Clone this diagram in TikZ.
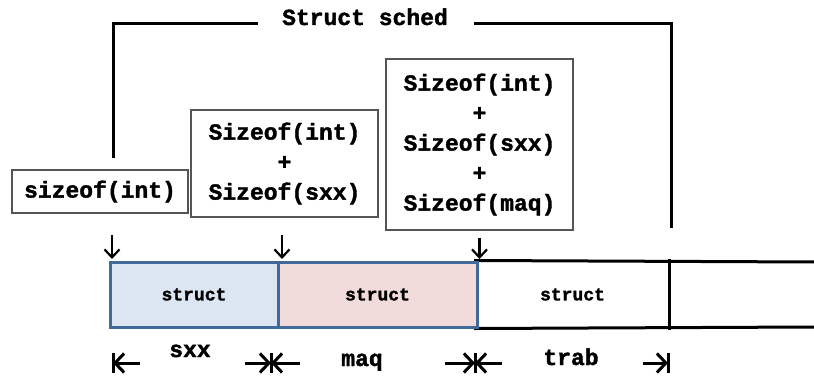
\documentclass[tikz,border=0pt]{standalone}
\usepackage{fontspec}
\newfontfamily\cour{Liberation Mono}[BoldFeatures={FakeBold=1.6}]
\usetikzlibrary{arrows.meta}
\definecolor{cellblue}{HTML}{DCE6F2}
\definecolor{cellpink}{HTML}{F2DCDB}
\definecolor{celledge}{HTML}{41699C}
\definecolor{boxedge}{HTML}{555555}
\begin{document}
\begin{tikzpicture}[x=1pt,y=-1pt,
  txt/.style={font=\cour\bfseries\fontsize{23}{30}\selectfont, align=center},
  sizebox/.style={txt, draw=boxedge, line width=1.3pt, inner sep=0pt},
  cell/.style={font=\cour\bfseries\fontsize{18}{20}\selectfont, line width=3pt,
    minimum height=65pt, inner sep=0pt},
  rowline/.style={line width=3pt, line cap=rect},
  bracket/.style={line width=3pt},
  downarr/.style={line width=2.2pt, -{Straight Barb[length=8pt,width=15pt]}, shorten >=1.5pt},
  dimarr/.style={line width=3pt, -{Straight Barb[length=9pt,width=19pt]}},
  dimbar/.style={line width=3pt},
  lbl/.style={txt, anchor=base, inner sep=0pt}]
\useasboundingbox (0,0) rectangle (814,377);

% title bracket
\node[lbl] (title) at (365,25) {Struct sched};
\coordinate (lt) at (113,24);
\coordinate (lb) at (113,158);
\coordinate (rt) at (671,24);
\coordinate (rb) at (671,228);
\draw[bracket] (lb) -- (lt) -- ([xshift=-24pt]lt -| title.west);
\draw[bracket] ([xshift=26pt]title.east |- rt) -- (rt) -- (rb);

% size boxes
\node[sizebox, minimum width=176pt, minimum height=43pt] (b1) at (100,191.5) {sizeof(int)};
\node[sizebox, minimum width=187pt, minimum height=107pt] (b2) at (284.5,163.5)
  {Sizeof(int)\\+\\Sizeof(sxx)};
\node[sizebox, minimum width=187pt, minimum height=171pt] (b3) at (479.5,144.5)
  {Sizeof(int)\\+\\Sizeof(sxx)\\+\\Sizeof(maq)};

% memory row
\node[cell, minimum width=191pt] (c3) at (572.5,294.5) {struct};
\coordinate (c4t) at (814,262);
\coordinate (c4b) at (814,327);
\draw[rowline] (c3.north west) -- (c4t);
\draw[rowline] (c3.south west) -- (c4b);
\draw[rowline] (c3.north east) -- (c3.south east);
\node[cell, draw=celledge, fill=cellblue, minimum width=168pt] (c1) at (194,294.5) {struct};
\node[cell, draw=celledge, fill=cellpink, minimum width=199pt] (c2) at (377.5,294.5) {struct};

% down arrows
\coordinate (a1) at (112,235);
\coordinate (a2) at (282,235);
\draw[downarr] (a1) -- (a1 |- c1.north);
\draw[downarr] (a2) -- (a2 |- c2.north);
\draw[downarr] ([yshift=-7pt]b3.south) -- (b3.south |- c2.north);

% dimension marks
\coordinate (k1) at (113,363);
\coordinate (k2) at (271,363);
\coordinate (k3) at (475,363);
\coordinate (k4) at (668,363);
\draw[dimbar] ([yshift=-10pt]k1) -- ([yshift=10pt]k1);
\draw[dimbar] ([yshift=-10pt]k2) -- ([yshift=10pt]k2);
\draw[dimbar] ([yshift=-10pt]k3) -- ([yshift=10pt]k3);
\draw[dimbar] ([yshift=-10pt]k4) -- ([yshift=10pt]k4);
\draw[dimarr] ([xshift=27pt]k1) -- (k1);
\draw[dimarr] ([xshift=-26pt]k2) -- (k2);
\draw[dimarr] ([xshift=29pt]k2) -- (k2);
\draw[dimarr] ([xshift=-30pt]k3) -- (k3);
\draw[dimarr] ([xshift=27pt]k3) -- (k3);
\draw[dimarr] ([xshift=-25pt]k4) -- (k4);

\node[lbl] (l1) at (190,357) {sxx};
\node[lbl] (l2) at (362,366) {maq};
\node[lbl] (l3) at (571,365) {trab};
\end{tikzpicture}
\end{document}
